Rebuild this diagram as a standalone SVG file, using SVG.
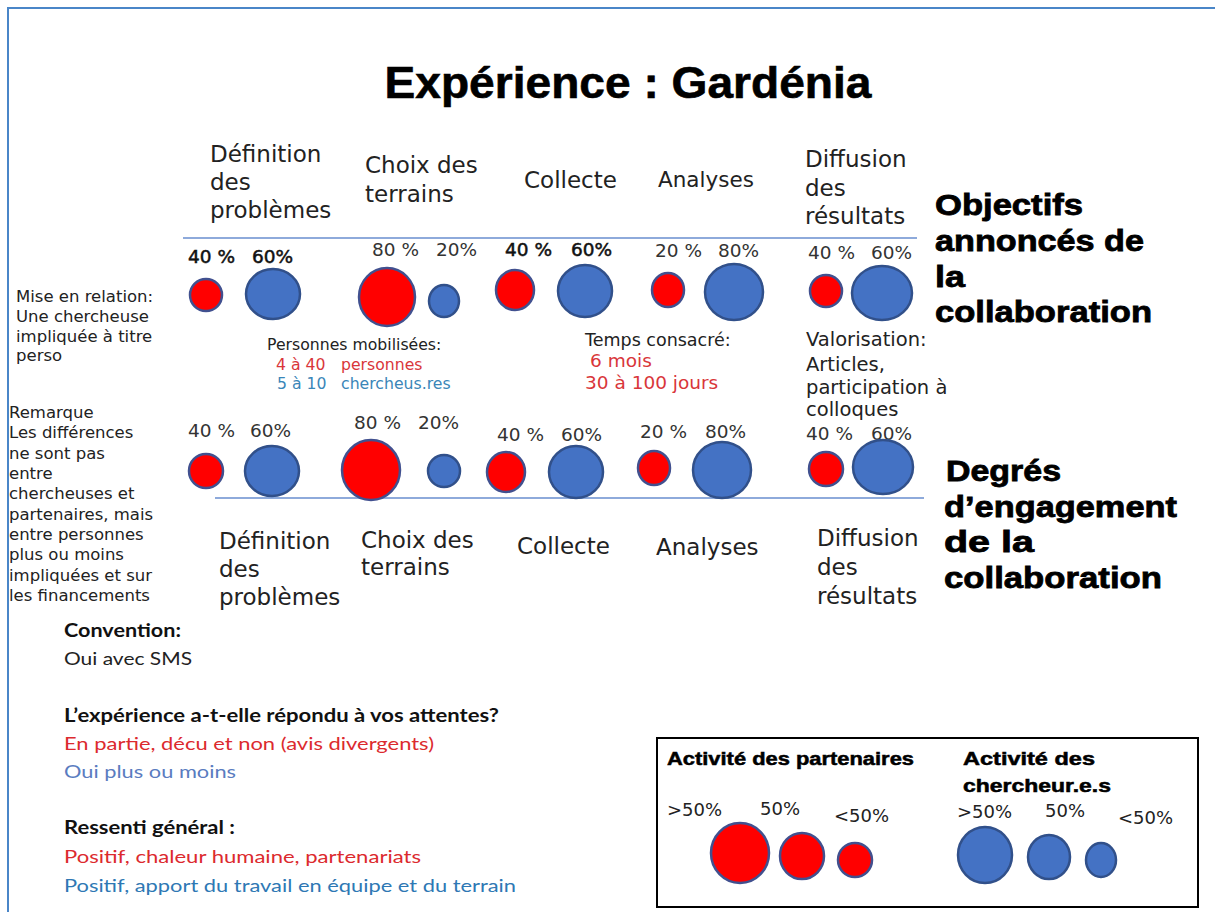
<svg xmlns="http://www.w3.org/2000/svg" width="1215" height="912" viewBox="0 0 1215 912">
<style>
.lbl{font-family:"DejaVu Sans",sans-serif;font-size:23px;fill:#222}
.pct{font-family:"DejaVu Sans",sans-serif;font-size:18.5px;fill:#333}
.pctb{font-family:"DejaVu Sans",sans-serif;font-size:18.5px;fill:#111;stroke:#111;stroke-width:0.5}
.sm{font-family:"DejaVu Sans",sans-serif;font-size:16.5px;fill:#222}
.head{font-family:"Liberation Sans",Arial,sans-serif;font-weight:bold;font-size:30px;fill:#000;stroke:#000;stroke-width:0.8}
.cal{font-family:Lato,"Liberation Sans",sans-serif;font-size:18px;fill:#222}
.calb{font-family:Lato,"Liberation Sans",sans-serif;font-size:18px;font-weight:bold;fill:#111}
.red{fill:#ff0000;stroke:#41508f;stroke-width:2.5}
.blue{fill:#4472c4;stroke:#31508a;stroke-width:2.5}
.rtxt{fill:#d9363a}
.btxt{fill:#3a86b8}
.leg{font-family:"Liberation Sans",Arial,sans-serif;font-weight:bold;font-size:18px;fill:#000;stroke:#000;stroke-width:0.5}
.legp{font-family:"DejaVu Sans",sans-serif;font-size:18px;fill:#222}
</style>
<rect x="8" y="8" width="1230" height="930" fill="#fff" stroke="#4a86c8" stroke-width="2"/>

<text x="628" y="98" text-anchor="middle" font-family="Liberation Sans, Arial, sans-serif" font-weight="bold" font-size="45" fill="#000" stroke="#000" stroke-width="0.6" textLength="487" lengthAdjust="spacingAndGlyphs">Expérience : Gardénia</text>

<g id="connectors">
<line x1="183" y1="238" x2="917" y2="238" stroke="#8eaadb" stroke-width="2"/>
<line x1="215" y1="498" x2="924" y2="498" stroke="#8eaadb" stroke-width="2"/>
</g>

<g id="top-labels">
<text class="lbl" x="210" y="162">Définition</text>
<text class="lbl" x="210" y="190">des</text>
<text class="lbl" x="210" y="218">problèmes</text>
<text class="lbl" x="365" y="173">Choix des</text>
<text class="lbl" x="365" y="202">terrains</text>
<text class="lbl" x="524" y="188">Collecte</text>
<text class="lbl" x="658" y="187" style="font-size:21.5px">Analyses</text>
<text class="lbl" x="805" y="167">Diffusion</text>
<text class="lbl" x="805" y="196">des</text>
<text class="lbl" x="805" y="224">résultats</text>
</g>

<g id="heading-objectifs">
<text class="head" x="935" y="215" textLength="148" lengthAdjust="spacingAndGlyphs">Objectifs</text>
<text class="head" x="935" y="251" textLength="209" lengthAdjust="spacingAndGlyphs">annoncés de</text>
<text class="head" x="935" y="287" textLength="30" lengthAdjust="spacingAndGlyphs">la</text>
<text class="head" x="935" y="322" textLength="217" lengthAdjust="spacingAndGlyphs">collaboration</text>
</g>

<g id="row1">
<text class="pctb" x="188" y="263">40 %</text>
<text class="pctb" x="252" y="263">60%</text>
<ellipse class="red" cx="206" cy="295" rx="16" ry="16"/>
<ellipse class="blue" cx="273" cy="294" rx="27" ry="25"/>
<text class="pct" x="372" y="256">80 %</text>
<text class="pct" x="436" y="256">20%</text>
<ellipse class="red" cx="387" cy="297" rx="28" ry="29"/>
<ellipse class="blue" cx="444" cy="301" rx="15" ry="16"/>
<text class="pctb" x="505" y="256">40 %</text>
<text class="pctb" x="571" y="256">60%</text>
<ellipse class="red" cx="515" cy="290" rx="19" ry="20"/>
<ellipse class="blue" cx="585" cy="291" rx="27" ry="26"/>
<text class="pct" x="655" y="257">20 %</text>
<text class="pct" x="718" y="257">80%</text>
<ellipse class="red" cx="668" cy="290" rx="16" ry="17"/>
<ellipse class="blue" cx="734" cy="292" rx="29" ry="28"/>
<text class="pct" x="808" y="259">40 %</text>
<text class="pct" x="871" y="259">60%</text>
<ellipse class="red" cx="826" cy="291" rx="16" ry="16"/>
<ellipse class="blue" cx="882" cy="293" rx="30" ry="27"/>
</g>

<g id="note-mise">
<text class="sm" x="16" y="302">Mise en relation:</text>
<text class="sm" x="16" y="322">Une chercheuse</text>
<text class="sm" x="16" y="342">impliquée à titre</text>
<text class="sm" x="16" y="361">perso</text>
</g>

<g id="note-personnes" font-family="DejaVu Sans, sans-serif" font-size="15.7">
<text x="267" y="350" fill="#222">Personnes mobilisées:</text>
<text y="370" class="rtxt"><tspan x="276">4 à 40</tspan><tspan x="341">personnes</tspan></text>
<text y="389" class="btxt"><tspan x="277">5 à 10</tspan><tspan x="341">chercheus.res</tspan></text>
</g>

<g id="note-temps" font-family="DejaVu Sans, sans-serif" font-size="17.5">
<text x="585" y="346" fill="#222">Temps consacré:</text>
<text x="590" y="367" class="rtxt" font-size="18.5">6 mois</text>
<text x="585" y="389" class="rtxt" font-size="18.5">30 à 100 jours</text>
</g>

<g id="note-valorisation" font-family="DejaVu Sans, sans-serif" font-size="19.5" fill="#222">
<text x="806" y="346">Valorisation:</text>
<text x="806" y="371">Articles,</text>
<text x="806" y="394">participation à</text>
<text x="806" y="416">colloques</text>
</g>

<g id="note-remarque">
<text class="sm" x="9" y="418">Remarque</text>
<text class="sm" x="9" y="438">Les différences</text>
<text class="sm" x="9" y="459">ne sont pas</text>
<text class="sm" x="9" y="479">entre</text>
<text class="sm" x="9" y="499">chercheuses et</text>
<text class="sm" x="9" y="520">partenaires, mais</text>
<text class="sm" x="9" y="540">entre personnes</text>
<text class="sm" x="9" y="560">plus ou moins</text>
<text class="sm" x="9" y="581">impliquées et sur</text>
<text class="sm" x="9" y="601">les financements</text>
</g>

<g id="row2">
<text class="pct" x="188" y="437">40 %</text>
<text class="pct" x="250" y="437">60%</text>
<ellipse class="red" cx="206" cy="471" rx="17" ry="17"/>
<ellipse class="blue" cx="272" cy="471" rx="27" ry="25"/>
<text class="pct" x="354" y="429">80 %</text>
<text class="pct" x="418" y="429">20%</text>
<ellipse class="red" cx="371" cy="470" rx="29" ry="30"/>
<ellipse class="blue" cx="444" cy="471" rx="16" ry="16"/>
<text class="pct" x="497" y="441">40 %</text>
<text class="pct" x="561" y="441">60%</text>
<ellipse class="red" cx="506" cy="472" rx="19" ry="20"/>
<ellipse class="blue" cx="576" cy="472" rx="27" ry="26"/>
<text class="pct" x="640" y="438">20 %</text>
<text class="pct" x="705" y="438">80%</text>
<ellipse class="red" cx="654" cy="468" rx="16" ry="17"/>
<ellipse class="blue" cx="722" cy="470" rx="29" ry="28"/>
<text class="pct" x="806" y="440">40 %</text>
<text class="pct" x="871" y="440">60%</text>
<ellipse class="red" cx="826" cy="469" rx="17" ry="17"/>
<ellipse class="blue" cx="883" cy="467" rx="30" ry="27"/>
</g>

<g id="bottom-labels">
<text class="lbl" x="219" y="549">Définition</text>
<text class="lbl" x="219" y="577">des</text>
<text class="lbl" x="219" y="605">problèmes</text>
<text class="lbl" x="361" y="548">Choix des</text>
<text class="lbl" x="361" y="575">terrains</text>
<text class="lbl" x="517" y="554">Collecte</text>
<text class="lbl" x="656" y="555">Analyses</text>
<text class="lbl" x="817" y="546">Diffusion</text>
<text class="lbl" x="817" y="575">des</text>
<text class="lbl" x="817" y="604">résultats</text>
</g>

<g id="heading-degres">
<text class="head" x="946" y="481" textLength="115" lengthAdjust="spacingAndGlyphs">Degrés</text>
<text class="head" x="944" y="517" textLength="233" lengthAdjust="spacingAndGlyphs">d’engagement</text>
<text class="head" x="944" y="552" textLength="90" lengthAdjust="spacingAndGlyphs">de la</text>
<text class="head" x="944" y="588" textLength="218" lengthAdjust="spacingAndGlyphs">collaboration</text>
</g>

<g id="summary">
<text class="calb" x="64" y="637" textLength="117" lengthAdjust="spacingAndGlyphs">Convention:</text>
<text class="cal" x="64" y="665" textLength="128" lengthAdjust="spacingAndGlyphs">Oui avec SMS</text>
<text class="calb" x="64" y="722" textLength="435" lengthAdjust="spacingAndGlyphs">L’expérience a-t-elle répondu à vos attentes?</text>
<text class="cal" x="64" y="750" style="fill:#dc2a2e" textLength="370" lengthAdjust="spacingAndGlyphs">En partie, décu et non (avis divergents)</text>
<text class="cal" x="64" y="778" style="fill:#5a7cc0" textLength="172" lengthAdjust="spacingAndGlyphs">Oui plus ou moins</text>
<text class="calb" x="64" y="834" textLength="171" lengthAdjust="spacingAndGlyphs">Ressenti général :</text>
<text class="cal" x="64" y="863" style="fill:#dc2a2e" textLength="357" lengthAdjust="spacingAndGlyphs">Positif, chaleur humaine, partenariats</text>
<text class="cal" x="64" y="892" style="fill:#2e78b4" textLength="452" lengthAdjust="spacingAndGlyphs">Positif, apport du travail en équipe et du terrain</text>
</g>

<g id="legend">
<rect x="657" y="738" width="541" height="169" fill="#fff" stroke="#000" stroke-width="2"/>
<text class="leg" x="667" y="765" textLength="247" lengthAdjust="spacingAndGlyphs">Activité des partenaires</text>
<text class="leg" x="963" y="765" textLength="132" lengthAdjust="spacingAndGlyphs">Activité des</text>
<text class="leg" x="963" y="792" textLength="148" lengthAdjust="spacingAndGlyphs">chercheur.e.s</text>
<text class="legp" x="667" y="816">&gt;50%</text>
<text class="legp" x="760" y="815">50%</text>
<text class="legp" x="834" y="822">&lt;50%</text>
<text class="legp" x="957" y="818">&gt;50%</text>
<text class="legp" x="1045" y="817">50%</text>
<text class="legp" x="1118" y="824">&lt;50%</text>
<ellipse class="red" cx="740" cy="853" rx="29" ry="30"/>
<ellipse class="red" cx="802" cy="856" rx="22" ry="23"/>
<ellipse class="red" cx="855" cy="860" rx="17" ry="17"/>
<ellipse class="blue" cx="985" cy="855" rx="27" ry="28"/>
<ellipse class="blue" cx="1049" cy="857" rx="21" ry="22"/>
<ellipse class="blue" cx="1101" cy="860" rx="15" ry="17"/>
</g>
</svg>
